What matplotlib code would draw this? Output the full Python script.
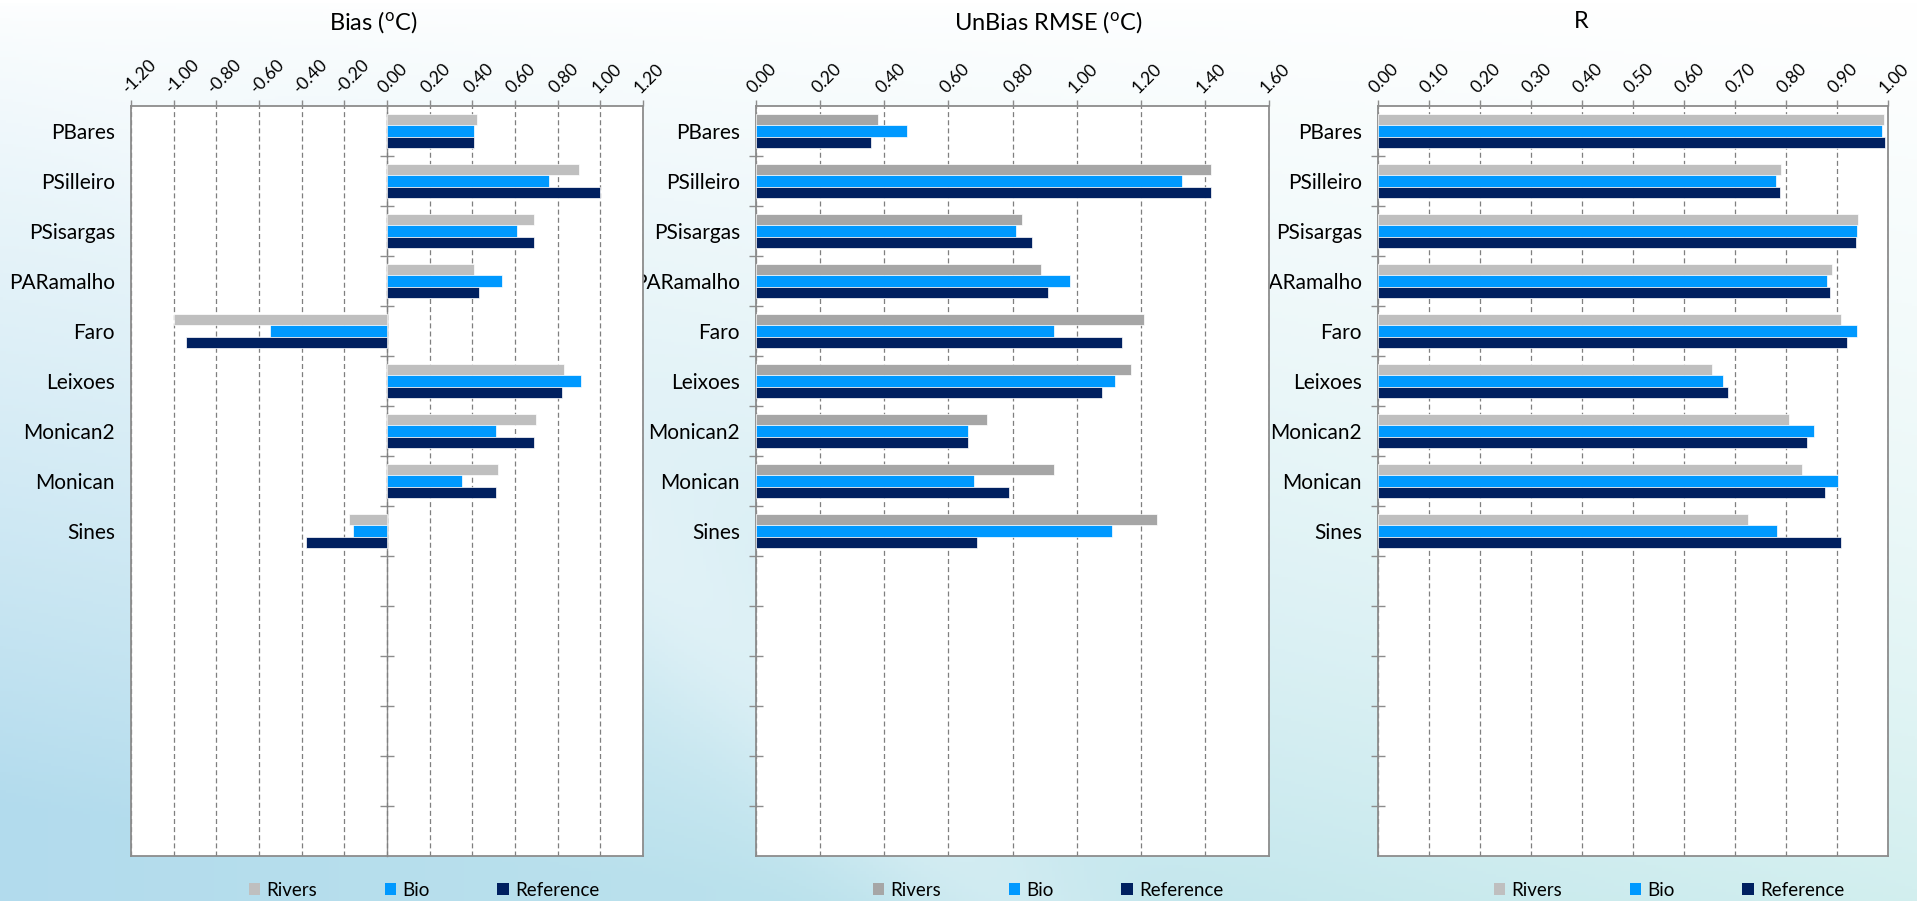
import matplotlib
matplotlib.use("Agg")
import matplotlib.pyplot as plt
import numpy as np
from matplotlib.patches import Patch
from matplotlib.ticker import FixedLocator, FuncFormatter

plt.rcParams["font.family"] = ["Lato", "DejaVu Sans"]
plt.rcParams["mathtext.fontset"] = "custom"
plt.rcParams["mathtext.rm"] = "Lato"
plt.rcParams["mathtext.it"] = "Lato:italic"

STATIONS = ["PBares", "PSilleiro", "PSisargas", "PARamalho", "Faro",
            "Leixoes", "Monican2", "Monican", "Sines"]
SERIES   = ["Rivers", "Bio", "Reference"]
N_SLOTS  = 15          # the category axis keeps 6 empty slots below Sines

BIAS_RIVERS = [0.42, 0.90, 0.69, 0.41, -1.00, 0.83, 0.70, 0.52, -0.18]
BIAS_BIO    = [0.41, 0.76, 0.61, 0.54, -0.55, 0.91, 0.51, 0.35, -0.16]
BIAS_REF    = [0.41, 1.00, 0.69, 0.43, -0.94, 0.82, 0.69, 0.51, -0.38]

RMSE_RIVERS = [0.38, 1.42, 0.83, 0.89, 1.21, 1.17, 0.72, 0.93, 1.25]
RMSE_BIO    = [0.47, 1.33, 0.81, 0.98, 0.93, 1.12, 0.66, 0.68, 1.11]
RMSE_REF    = [0.36, 1.42, 0.86, 0.91, 1.14, 1.08, 0.66, 0.79, 0.69]

R_RIVERS = [0.992, 0.790, 0.941, 0.891, 0.907, 0.654, 0.806, 0.832, 0.725]
R_BIO    = [0.988, 0.781, 0.940, 0.880, 0.940, 0.676, 0.854, 0.901, 0.782]
R_REF    = [0.994, 0.788, 0.937, 0.886, 0.919, 0.687, 0.841, 0.876, 0.907]

GRAY_LIGHT = "#BFBFBF"
GRAY_DARK  = "#A6A6A6"
BIO_COL    = "#0099FF"
REF_COL    = "#002060"
FRAME      = "#8C8C8C"
GRID       = "#7F7F7F"

W, H  = 1917, 901
BAR_H = 0.233
TOP, BOTTOM = 106, 856


def fx(px):
    return px / W


def fy(py):
    return 1 - py / H


def draw_background(fig):
    bg = fig.add_axes([0, 0, 1, 1], zorder=-10)
    yy, xx = np.mgrid[0:1:300j, 0:1:600j]
    f = np.clip(0.55 * yy + 0.35 * (1 - xx) * np.sqrt(yy) + 0.25 * yy ** 3
                - 0.25 * np.exp(-((xx - 0.02 - 0.5 * yy) ** 2) / 0.004) * yy, 0, 1)
    white = np.array([1.0, 1.0, 1.0])
    blue  = np.array([0.70, 0.86, 0.93])
    cyan  = np.array([0.78, 0.92, 0.92])
    tint  = blue[None, None, :] * (1 - xx[..., None]) + cyan[None, None, :] * xx[..., None]
    img = white * (1 - f[..., None]) + tint * f[..., None]
    bg.imshow(img, aspect="auto", extent=(0, 1, 0, 1), origin="upper")
    bg.axis("off")


def draw_panel(fig, left_px, right_px, title, title_x, values, xlim, xstep,
               river_col, legend_x, zorder, zero_axis=False):
    rect = [fx(left_px), fy(BOTTOM), (right_px - left_px) / W, (BOTTOM - TOP) / H]
    ax = fig.add_axes(rect, zorder=zorder)
    ax.set_facecolor("white")
    cols = [river_col, BIO_COL, REF_COL]
    y = np.arange(len(STATIONS))
    for k, (vals, c) in enumerate(zip(values, cols)):
        ax.barh(y + (k - 1) * BAR_H, vals, height=BAR_H, color=c,
                edgecolor="white", linewidth=0.5, zorder=3)

    ax.set_xlim(*xlim)
    ax.set_ylim(N_SLOTS - 0.5, -0.5)

    ticks = np.round(np.arange(xlim[0], xlim[1] + xstep / 2, xstep), 2)
    ax.xaxis.tick_top()
    ax.set_xticks(ticks)
    ax.xaxis.set_major_formatter(
        FuncFormatter(lambda v, _: f"{v:.2f}".replace("-0.00", "0.00")))
    ax.tick_params(axis="x", direction="out", length=4.5, width=1, color=FRAME,
                   pad=2.5, labelsize=12.5)
    plt.setp(ax.get_xticklabels(), rotation=45, ha="left", va="bottom",
             rotation_mode="anchor")
    ax.grid(axis="x", color=GRID, linestyle=(0, (4, 2.5)), linewidth=0.9)
    ax.set_axisbelow(True)

    ax.set_yticks(y)
    ax.set_yticklabels(STATIONS)
    ax.tick_params(axis="y", which="major", length=0, pad=11.5, labelsize=15)
    bounds = np.arange(0.5, N_SLOTS - 1, 1.0)
    if zero_axis:
        sec = ax.secondary_yaxis(0.5)
        sec.set_yticks(bounds)
        sec.tick_params(direction="inout", length=10, width=1, color=FRAME,
                        labelleft=False, labelright=False)
        for s in sec.spines.values():
            s.set_color(FRAME)
            s.set_linewidth(1.0)
    else:
        ax.yaxis.set_minor_locator(FixedLocator(bounds))
        ax.tick_params(axis="y", which="minor", direction="inout", length=10,
                       width=1, color=FRAME)

    for s in ax.spines.values():
        s.set_color(FRAME)
        s.set_linewidth(1.3)

    fig.text(fx(title_x), fy(22), title, ha="center", va="center", fontsize=17)

    handles = [Patch(facecolor=c, edgecolor="none") for c in cols]
    ax.legend(handles, SERIES, loc="center", bbox_to_anchor=(fx(legend_x), fy(890)),
              bbox_transform=fig.transFigure, ncol=3, frameon=False, fontsize=13.5,
              handlelength=0.6, handleheight=0.6, handletextpad=0.35,
              columnspacing=3.6, borderpad=0, borderaxespad=0)
    return ax


def main():
    fig = plt.figure(figsize=(W / 100, H / 100), dpi=100)
    draw_background(fig)

    draw_panel(fig, 131, 643, r"Bias ($^{\rm o}$C)", 373,
               [BIAS_RIVERS, BIAS_BIO, BIAS_REF], (-1.2, 1.2), 0.2,
               GRAY_LIGHT, 424, zorder=3, zero_axis=True)
    draw_panel(fig, 756, 1269, r"UnBias RMSE ($^{\rm o}$C)", 1048,
               [RMSE_RIVERS, RMSE_BIO, RMSE_REF], (0.0, 1.6), 0.2,
               GRAY_DARK, 1048, zorder=2)
    draw_panel(fig, 1378, 1888, "R", 1581,
               [R_RIVERS, R_BIO, R_REF], (0.0, 1.0), 0.1,
               GRAY_LIGHT, 1669, zorder=1)

    fig.savefig("out.png", dpi=100)
    plt.close(fig)


if __name__ == "__main__":
    main()
